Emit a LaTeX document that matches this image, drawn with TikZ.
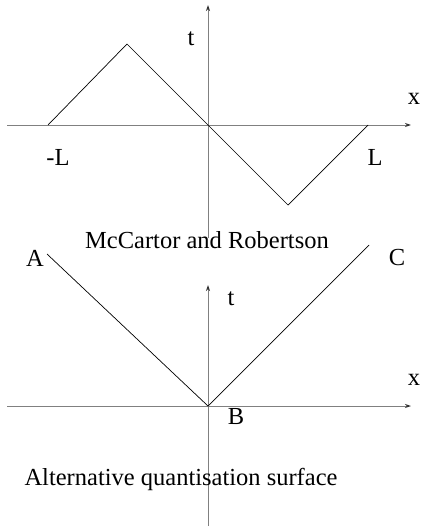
\documentclass[tikz,border=0pt]{standalone}
\usepackage{fontspec}
\setmainfont{Liberation Serif}
\usetikzlibrary{arrows.meta}
\begin{document}
\begin{tikzpicture}[x=1pt,y=-1pt,
  axis/.style={draw=black!50,line width=1pt,-{Stealth[length=6pt,width=4pt,black!80]}},
  curve/.style={draw=black,line width=0.7pt},
  lbl/.style={font=\fontsize{24.5}{28}\selectfont,inner sep=0pt}]
\useasboundingbox (0,0) rectangle (420,527);
% top plot
\coordinate (xl1) at (7,125);
\coordinate (xr1) at (411,125);
\coordinate (tb1) at (208,238);
\coordinate (tt1) at (208,5);
\coordinate (mL) at (48,125);
\coordinate (pk) at (127,44);
\coordinate (o1) at (208,125);
\coordinate (tr) at (288,205);
\coordinate (pL) at (368,125);
\draw[axis] (xl1) -- (xr1);
\draw[axis] (tb1) -- (tt1);
\draw[curve] (mL) -- (pk) -- (o1) -- (tr) -- (pL);
\node[lbl] (t1) at (191,39) {t};
\node[lbl] (x1) at (414,99) {x};
\node[lbl] (lm) at (58,157) {-L};
\node[lbl] (lp) at (375,157) {L};
\node[lbl] (cap1) at (207,240) {McCartor and Robertson};
% bottom plot
\coordinate (xl2) at (7,406);
\coordinate (xr2) at (411,406);
\coordinate (tb2) at (208,526);
\coordinate (tt2) at (208,285);
\coordinate (ea) at (47,254);
\coordinate (ec) at (369,245);
\node[inner sep=0pt] (o2) at (208,406) {};
\draw[axis] (xl2) -- (xr2);
\draw[axis] (tb2) -- (tt2);
\draw[curve] (ea) -- (o2.center) -- (ec);
\node[lbl] (A) at (35,258) {A};
\node[lbl] (C) at (397,258) {C};
\node[lbl] (B) at (236,417) {B};
\node[lbl] (t2) at (231,299) {t};
\node[lbl] (x2) at (414,380) {x};
\node[lbl] (cap2) at (181,479) {Alternative quantisation surface};
\end{tikzpicture}
\end{document}
